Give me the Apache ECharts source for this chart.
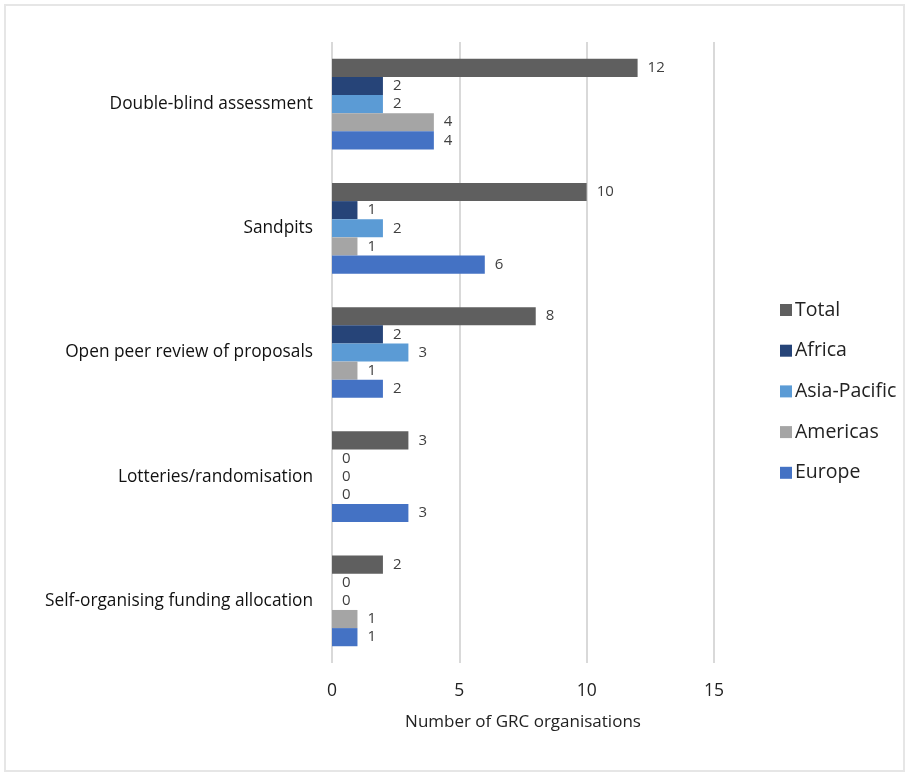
<!DOCTYPE html>
<html>
<head>
<meta charset="utf-8">
<script src="https://cdn.jsdelivr.net/npm/echarts@6/dist/echarts.min.js"></script>
<style>
html,body{margin:0;padding:0;background:#fff;}
#chart{width:909px;height:775px;}
</style>
</head>
<body>
<div id="chart"></div>
<script>
const categories = ["Double-blind assessment", "Sandpits", "Open peer review of proposals", "Lotteries/randomisation", "Self-organising funding allocation"];
const seriesNames = ["Total", "Africa", "Asia-Pacific", "Americas", "Europe"];
const totalValues = [12, 10, 8, 3, 2];
const africaValues = [2, 1, 2, 0, 0];
const asiaPacificValues = [2, 2, 3, 0, 0];
const americasValues = [4, 1, 1, 0, 1];
const europeValues = [4, 6, 2, 3, 1];
const xTicks = [0, 5, 10, 15];

const colors = ["#5f5f5f", "#264478", "#5b9bd5", "#a5a5a5", "#4472c4"];
const allValues = [totalValues, africaValues, asiaPacificValues, americasValues, europeValues];
const font = "'Open Sans', 'Liberation Sans', sans-serif";

const chart = echarts.init(document.getElementById('chart'), null, {renderer: 'canvas'});
chart.setOption({
  animation: false,
  backgroundColor: '#fff',
  graphic: [{
    type: 'rect', shape: {x: 5, y: 5, width: 899, height: 766},
    style: {fill: 'none', stroke: '#e6e6e6', lineWidth: 2}, silent: true
  }],
  color: colors,
  grid: {left: 332, right: 195, top: 42, bottom: 112, containLabel: false},
  legend: {
    orient: 'vertical',
    left: 775, top: 293,
    itemWidth: 12, itemHeight: 12, itemGap: 16.7,
    icon: 'rect',
    data: seriesNames,
    textStyle: {fontSize: 19.5, color: '#222', fontFamily: font, lineHeight: 24, padding: [0,0,0,-2]}
  },
  xAxis: {
    type: 'value', min: xTicks[0], max: xTicks[xTicks.length-1], interval: 5,
    axisLine: {show: false}, axisTick: {show: false},
    splitLine: {show: true, lineStyle: {color: '#d9d9d9', width: 2}},
    axisLabel: {fontSize: 17.5, color: '#222', fontFamily: font, margin: 19},
    name: 'Number of GRC organisations', nameLocation: 'middle', nameGap: 51,
    nameTextStyle: {fontSize: 17, color: '#222', fontFamily: font}
  },
  yAxis: {
    type: 'category', data: categories, inverse: true,
    axisLine: {show: false}, axisTick: {show: false},
    axisLabel: {fontSize: 17.3, color: '#111', fontFamily: font, margin: 19}
  },
  series: seriesNames.map((name, i) => ({
    name: name, type: 'bar', data: allValues[i],
    barGap: '0%', barCategoryGap: '27%',
    itemStyle: {color: colors[i]},
    label: {show: true, position: 'right', distance: 10, fontSize: 15, color: '#404040', fontFamily: font}
  }))
});
</script>
</body>
</html>
